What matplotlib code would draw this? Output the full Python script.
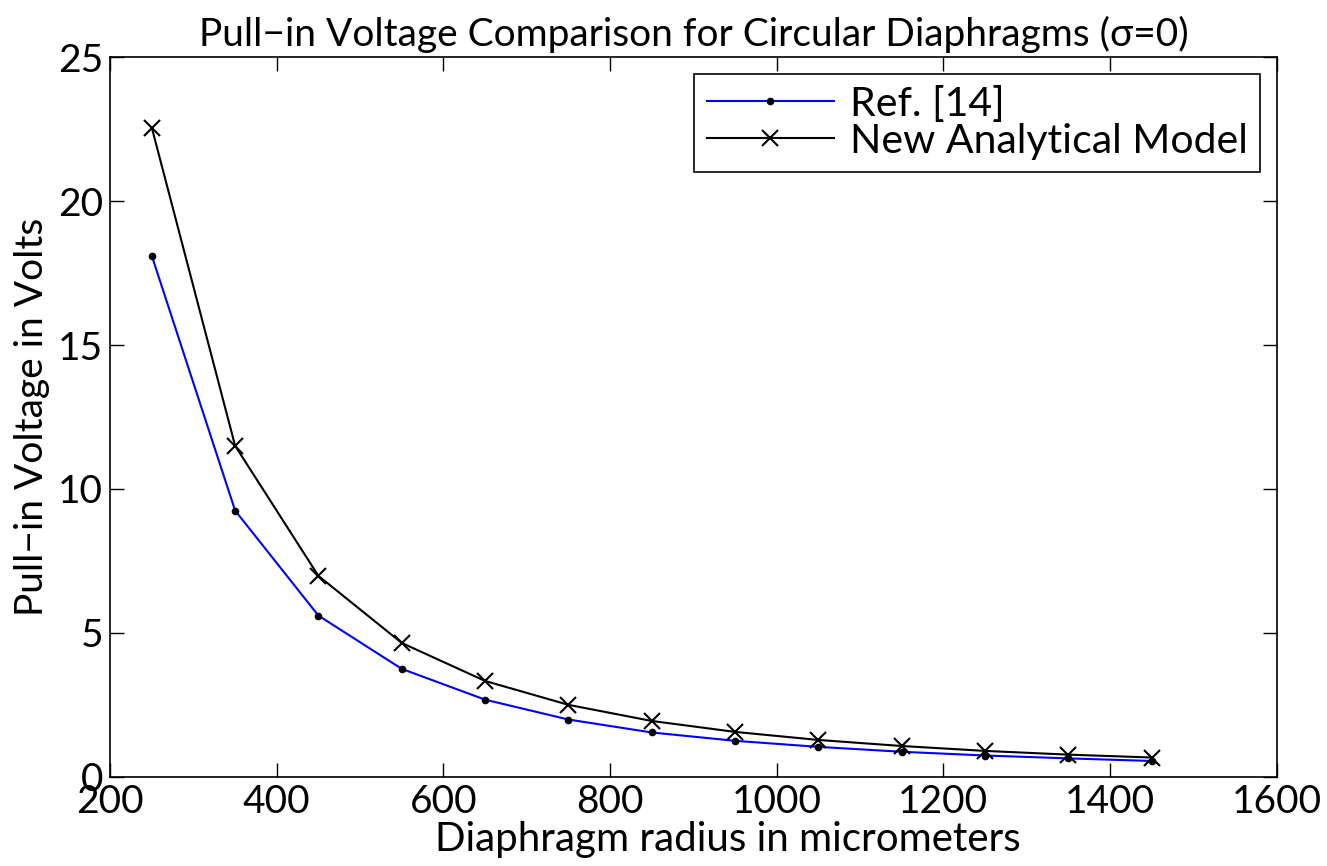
import matplotlib
matplotlib.use('Agg')
import matplotlib.pyplot as plt

plt.rcParams['font.family'] = ['Lato', 'DejaVu Sans']

# Data
radius = [250, 350, 450, 550, 650, 750, 850, 950, 1050, 1150, 1250, 1350, 1450]
ref14 = [18.1, 9.25, 5.6, 3.75, 2.68, 1.99, 1.54, 1.25, 1.04, 0.87, 0.74, 0.64, 0.55]
new_model = [22.55, 11.5, 6.98, 4.65, 3.33, 2.5, 1.94, 1.56, 1.28, 1.07, 0.9, 0.77, 0.67]

fig = plt.figure(figsize=(13.27, 8.66), dpi=100)
ax = fig.add_axes([0.083, 0.103, 0.879, 0.831])

ax.plot(radius, ref14, color='#0000ff', marker='.', markersize=9,
        markerfacecolor='black', markeredgecolor='black', linewidth=1.5, label='Ref. [14]')
ax.plot(radius, new_model, color='black', marker='x', markersize=12,
        markeredgewidth=1.5, linewidth=1.5, label='New Analytical Model')

ax.set_xlim(200, 1600)
ax.set_ylim(0, 25)
ax.set_xticks(range(200, 1601, 200))
ax.set_yticks(range(0, 26, 5))
ax.tick_params(direction='in', length=10, width=1, top=True, right=True, labelsize=28, pad=5)
for s in ax.spines.values():
    s.set_linewidth(1.2)

ax.set_xlabel('Diaphragm radius in micrometers', fontsize=29)
ax.xaxis.set_label_coords(0.53, -0.062, transform=ax.transAxes)
ax.xaxis.label.set_va('top')
ax.set_ylabel('Pull\u2212in Voltage in Volts', fontsize=28, labelpad=6)
ax.set_title('Pull\u2212in Voltage Comparison for Circular Diaphragms (\u03c3=0)', fontsize=28, pad=8)

leg = ax.legend(loc='upper right', fontsize=29.5, fancybox=False, edgecolor='black',
                framealpha=1, borderaxespad=0.4, handlelength=3.1, labelspacing=0.0,
                borderpad=0.3, handletextpad=0.4)
leg.get_frame().set_linewidth(1.2)

fig.savefig('out.png', dpi=100)
